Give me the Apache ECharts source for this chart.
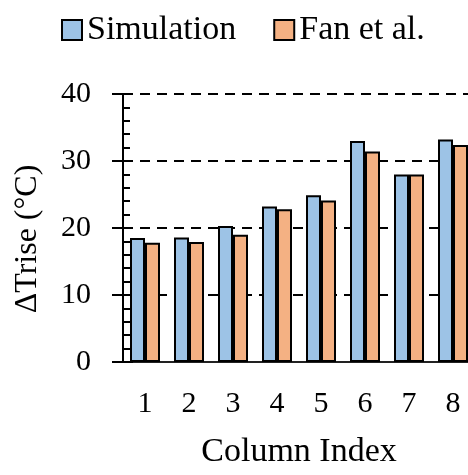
<!DOCTYPE html>
<html>
<head>
<meta charset="utf-8">
<script src="https://cdn.jsdelivr.net/npm/echarts@6/dist/echarts.min.js"></script>
<style>
  html, body { margin: 0; padding: 0; background: #fff; }
  #chart { width: 468px; height: 475px; }
</style>
</head>
<body>
<div id="chart"></div>
<script>
// Temperature rise per column: simulation vs. Fan et al.
const columns = ['1', '2', '3', '4', '5', '6', '7', '8'];
const simulation = [18.5, 18.6, 20.3, 23.2, 24.9, 33.0, 28.0, 33.2];
const fanEtAl = [17.8, 17.9, 19.0, 22.8, 24.1, 31.4, 28.0, 32.4];
const yTicks = [0, 10, 20, 30, 40];

const FONT = '"Liberation Serif", "DejaVu Serif", serif';
const BLUE = '#9DC3E6';
const ORANGE = '#F4B183';

const chart = echarts.init(document.getElementById('chart'), null, { renderer: 'canvas' });

const yBase = {
  type: 'value',
  min: yTicks[0],
  max: yTicks[yTicks.length - 1],
  interval: yTicks[1] - yTicks[0]
};

chart.setOption({
  animation: false,
  backgroundColor: '#fff',
  textStyle: { fontFamily: FONT, color: '#000' },
  legend: {
    left: 56,
    top: 8,
    itemWidth: 20,
    itemHeight: 20,
    itemGap: 37,
    icon: 'rect',
    textStyle: { fontFamily: FONT, fontSize: 34, color: '#000' },
    data: ['Simulation', 'Fan et al.']
  },
  // The plot area runs a little past the right edge of the canvas
  grid: { left: 123, top: 94, width: 352, height: 268, containLabel: false, outerBoundsMode: 'none' },
  xAxis: {
    type: 'category',
    data: columns,
    boundaryGap: true,
    name: 'Column Index',
    nameLocation: 'middle',
    nameGap: 73,
    nameTextStyle: { fontFamily: FONT, fontSize: 34, color: '#000' },
    axisLine: { show: true, lineStyle: { color: '#222', width: 2 } },
    axisTick: { show: false },
    axisLabel: { fontFamily: FONT, fontSize: 30, color: '#000', margin: 27 },
    splitLine: { show: false }
  },
  yAxis: [
    Object.assign({}, yBase, {
      name: 'ΔTrise (°C)',
      nameLocation: 'middle',
      nameGap: 79,
      nameTextStyle: { fontFamily: FONT, fontSize: 32, color: '#000', padding: [0, 22, 0, 0] },
      axisLine: { show: true, lineStyle: { color: '#000', width: 2 } },
      axisTick: { show: true, inside: false, length: 11, lineStyle: { color: '#000', width: 2 } },
      axisLabel: { fontFamily: FONT, fontSize: 30, color: '#000', margin: 32 },
      splitLine: { show: true, lineStyle: { color: '#000', width: 2, type: [10, 7] } }
    }),
    Object.assign({}, yBase, {
      position: 'left',
      axisLine: { show: false },
      axisLabel: { show: false },
      axisTick: { show: true, inside: true, length: 10, lineStyle: { color: '#000', width: 2 } },
      minorTick: { show: true, splitNumber: 5, length: 7, lineStyle: { color: '#000', width: 2 } },
      splitLine: { show: false }
    })
  ],
  series: [
    {
      name: 'Simulation',
      type: 'bar',
      yAxisIndex: 0,
      data: simulation,
      barWidth: 15,
      barGap: '0%',
      itemStyle: { color: BLUE, borderColor: '#000', borderWidth: 2 },
      z: 3
    },
    {
      name: 'Fan et al.',
      type: 'bar',
      yAxisIndex: 0,
      data: fanEtAl,
      barWidth: 15,
      barGap: '0%',
      itemStyle: { color: ORANGE, borderColor: '#000', borderWidth: 2 },
      z: 3
    }
  ]
});
</script>
</body>
</html>
